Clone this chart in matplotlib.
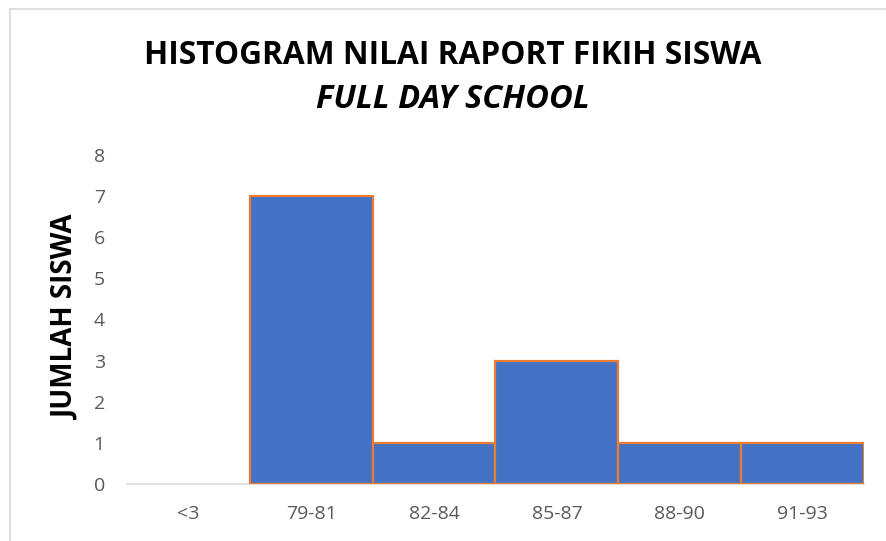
import matplotlib.pyplot as plt

categories = ["<3", "79-81", "82-84", "85-87", "88-90", "91-93"]
counts = [0, 7, 1, 3, 1, 1]
y_ticks = [0, 1, 2, 3, 4, 5, 6, 7, 8]

title_line1 = "HISTOGRAM NILAI RAPORT FIKIH SISWA"
title_line2 = "FULL DAY SCHOOL"
y_label = "JUMLAH SISWA"

W, H = 886, 541
plt.rcParams['font.family'] = ["Open Sans", "DejaVu Sans"]

fig = plt.figure(figsize=(W / 100, H / 100), dpi=100)

# light chart-area border (top and left visible, rest cropped)
fig.add_artist(plt.Line2D([10 / W, 1], [1 - 9 / H, 1 - 9 / H], color="#d9d9d9", lw=1.2))
fig.add_artist(plt.Line2D([10 / W, 10 / W], [0, 1 - 9 / H], color="#d9d9d9", lw=1.2))

ax = fig.add_axes([127 / W, 57 / H, 737 / W, 329 / H])
x = range(len(categories))
# empty bins get no outline
widths = [1.6 if c > 0 else 0 for c in counts]
ax.bar(x, counts, width=1.0, color="#4472C4", edgecolor="#ED7D31", linewidth=widths, zorder=3)

ax.set_xlim(-0.5, len(categories) - 0.5)
ax.set_ylim(0, 8)
ax.set_yticks(y_ticks)
ax.set_xticks(list(x))
ax.set_xticklabels(categories)

for s in ["top", "right", "left"]:
    ax.spines[s].set_visible(False)
ax.spines["bottom"].set_color("#d9d9d9")
ax.spines["bottom"].set_linewidth(1.2)
ax.tick_params(axis="both", length=0, labelsize=14, labelcolor="#595959")
ax.tick_params(axis="y", pad=16)
ax.tick_params(axis="x", pad=15)

fig.text(453 / W, 1 - 55 / H, title_line1, ha="center", va="center",
         fontsize=22.8, fontweight="bold", color="black")
fig.text(453 / W, 1 - 100 / H, title_line2, ha="center", va="center",
         fontsize=23.5, fontweight="bold", fontstyle="italic", color="black")
fig.text(66 / W, 1 - 318 / H, y_label, ha="center", va="center", rotation=90,
         fontsize=20, fontweight="bold", color="black")

fig.savefig("out.png", dpi=100)
